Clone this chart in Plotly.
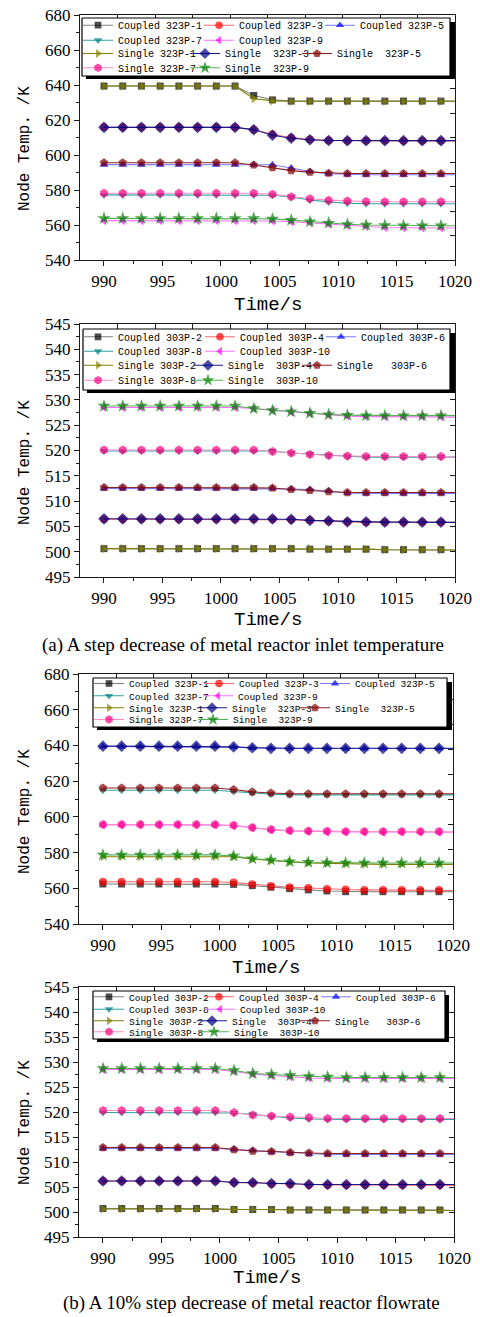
import plotly.graph_objects as go

W, H = 480, 1317

# Sample times; markers every 1.6 s, the line runs on to 1020 s
TIME = [990.0, 991.6, 993.2, 994.8, 996.4, 998.0, 999.6, 1001.2, 1002.8, 1004.4,
        1006.0, 1007.6, 1009.2, 1010.8, 1012.4, 1014.0, 1015.6, 1017.2, 1018.8, 1020.0]

# (a) inlet-temperature step, 323P nodes
a323_c1 = [639.4, 639.4, 639.4, 639.4, 639.4, 639.4, 639.4, 639.4, 634.0, 631.5, 630.8, 630.8, 630.8, 630.8, 630.8, 630.8, 630.8, 630.8, 630.8, 630.8]
a323_c3 = [615.8, 615.8, 615.8, 615.8, 615.8, 615.8, 615.8, 615.8, 614.4, 611.9, 609.9, 608.8, 608.3, 608.1, 608.1, 608.1, 608.1, 608.1, 608.1, 608.1]
a323_c5 = [594.5, 594.5, 594.5, 594.5, 594.5, 594.5, 594.5, 594.5, 594.5, 594.4, 592.6, 590.6, 589.3, 588.9, 588.7, 588.7, 588.7, 588.7, 588.7, 588.7]
a323_c7 = [577.2, 577.2, 577.2, 577.2, 577.2, 577.2, 577.2, 577.2, 577.2, 577.0, 576.0, 574.3, 573.2, 572.4, 572.1, 572.1, 572.1, 572.1, 572.1, 572.1]
a323_c9 = [562.5, 562.5, 562.5, 562.5, 562.5, 562.5, 562.5, 562.5, 562.5, 562.3, 561.9, 561.3, 560.6, 559.7, 559.1, 558.6, 558.4, 558.3, 558.3, 558.3]
a323_s1 = [639.4, 639.4, 639.4, 639.4, 639.4, 639.4, 639.4, 639.4, 632.2, 630.9, 630.7, 630.7, 630.7, 630.7, 630.7, 630.7, 630.7, 630.7, 630.7, 630.7]
a323_s3 = [615.8, 615.8, 615.8, 615.8, 615.8, 615.8, 615.8, 615.8, 614.5, 611.3, 609.6, 608.7, 608.3, 608.2, 608.2, 608.2, 608.2, 608.2, 608.2, 608.2]
a323_s5 = [595.6, 595.6, 595.6, 595.6, 595.6, 595.6, 595.6, 595.6, 594.3, 592.8, 591.1, 590.2, 589.6, 589.4, 589.4, 589.4, 589.4, 589.4, 589.4, 589.4]
a323_s7 = [578.1, 578.1, 578.1, 578.1, 578.1, 578.1, 578.1, 578.1, 578.1, 577.6, 576.1, 575.0, 574.2, 573.7, 573.4, 573.3, 573.3, 573.3, 573.3, 573.3]
a323_s9 = [563.8, 563.8, 563.8, 563.8, 563.8, 563.8, 563.8, 563.8, 563.8, 563.5, 562.8, 561.9, 561.1, 560.4, 560.0, 559.8, 559.6, 559.6, 559.6, 559.6]

# (a) inlet-temperature step, 303P nodes
a303_c2 = [500.6, 500.6, 500.6, 500.6, 500.6, 500.6, 500.6, 500.6, 500.6, 500.6, 500.6, 500.5, 500.5, 500.5, 500.5, 500.4, 500.4, 500.4, 500.4, 500.35]
a303_c4 = [506.4, 506.4, 506.4, 506.4, 506.4, 506.4, 506.4, 506.4, 506.4, 506.4, 506.3, 506.2, 506.0, 505.9, 505.8, 505.8, 505.8, 505.8, 505.8, 505.8]
a303_c6 = [512.5, 512.5, 512.5, 512.5, 512.5, 512.5, 512.5, 512.5, 512.5, 512.5, 512.4, 512.3, 512.0, 511.6, 511.5, 511.5, 511.5, 511.5, 511.5, 511.5]
a303_c8 = [519.9, 519.9, 519.9, 519.9, 519.9, 519.9, 519.9, 519.9, 519.9, 519.9, 519.5, 519.3, 519.0, 518.8, 518.7, 518.7, 518.7, 518.7, 518.7, 518.7]
a303_c10 = [528.5, 528.5, 528.5, 528.5, 528.5, 528.5, 528.5, 528.5, 528.3, 528.0, 527.6, 527.3, 527.0, 526.8, 526.7, 526.7, 526.7, 526.7, 526.7, 526.6]
a303_s2 = [500.6, 500.6, 500.6, 500.6, 500.6, 500.6, 500.6, 500.6, 500.6, 500.6, 500.6, 500.6, 500.5, 500.5, 500.5, 500.4, 500.4, 500.4, 500.4, 500.35]
a303_s4 = [506.5, 506.5, 506.5, 506.5, 506.5, 506.5, 506.5, 506.5, 506.5, 506.5, 506.4, 506.2, 506.1, 505.9, 505.9, 505.85, 505.85, 505.85, 505.85, 505.8]
a303_s6 = [512.7, 512.7, 512.7, 512.7, 512.7, 512.7, 512.7, 512.7, 512.7, 512.6, 512.3, 512.1, 511.9, 511.7, 511.7, 511.7, 511.7, 511.7, 511.7, 511.7]
a303_s8 = [520.1, 520.1, 520.1, 520.1, 520.1, 520.1, 520.1, 520.1, 520.1, 519.8, 519.5, 519.2, 519.0, 518.9, 518.8, 518.8, 518.8, 518.8, 518.8, 518.7]
a303_s10 = [528.8, 528.8, 528.8, 528.8, 528.8, 528.8, 528.8, 528.8, 528.3, 527.9, 527.7, 527.4, 527.1, 527.0, 526.9, 526.9, 526.9, 526.9, 526.9, 526.9]

# (b) 10% flowrate step, 323P nodes
b323_c1 = [562.4, 562.4, 562.4, 562.4, 562.4, 562.4, 562.4, 562.2, 561.5, 560.6, 559.8, 559.1, 558.5, 558.1, 558.1, 558.1, 558.1, 558.1, 558.1, 558.1]
b323_c3 = [563.7, 563.7, 563.7, 563.7, 563.7, 563.7, 563.7, 563.2, 562.2, 561.3, 560.6, 560.2, 559.6, 559.3, 559.1, 559.1, 559.1, 559.1, 559.1, 558.8]
b323_c5 = [639.4, 639.4, 639.4, 639.4, 639.4, 639.4, 639.4, 639.0, 638.6, 638.3, 638.3, 638.3, 638.3, 638.3, 638.3, 638.3, 638.3, 638.3, 638.3, 638.3]
b323_c7 = [614.9, 614.9, 614.9, 614.9, 614.9, 614.9, 614.9, 614.2, 613.4, 612.7, 612.3, 612.3, 612.3, 612.3, 612.3, 612.3, 612.3, 612.3, 612.3, 612.3]
b323_c9 = [595.5, 595.5, 595.5, 595.5, 595.5, 595.5, 595.5, 595.0, 593.8, 592.7, 592.1, 591.8, 591.6, 591.5, 591.5, 591.5, 591.5, 591.5, 591.5, 591.4]
b323_s1 = [577.7, 577.7, 577.7, 577.7, 577.7, 577.7, 577.7, 577.7, 576.3, 575.4, 574.8, 574.2, 573.9, 573.6, 573.4, 573.4, 573.4, 573.4, 573.4, 573.4]
b323_s3 = [639.6, 639.6, 639.6, 639.6, 639.6, 639.6, 639.6, 639.2, 638.7, 638.4, 638.4, 638.4, 638.4, 638.4, 638.4, 638.4, 638.4, 638.4, 638.4, 638.4]
b323_s5 = [616.2, 616.2, 616.2, 616.2, 616.2, 616.2, 616.2, 615.3, 614.0, 613.4, 612.9, 612.9, 612.9, 612.9, 612.9, 612.9, 612.9, 612.9, 612.9, 612.9]
b323_s7 = [595.7, 595.7, 595.7, 595.7, 595.7, 595.7, 595.7, 595.3, 594.0, 592.9, 592.3, 592.1, 591.9, 591.8, 591.8, 591.8, 591.8, 591.8, 591.8, 591.6]
b323_s9 = [578.7, 578.7, 578.7, 578.7, 578.7, 578.7, 578.7, 578.1, 576.6, 575.9, 574.9, 574.6, 574.4, 574.2, 574.2, 574.2, 574.2, 574.2, 574.2, 574.2]

# (b) 10% flowrate step, 303P nodes
b303_c2 = [500.7, 500.7, 500.7, 500.7, 500.7, 500.7, 500.7, 500.5, 500.5, 500.5, 500.4, 500.4, 500.4, 500.4, 500.4, 500.4, 500.4, 500.4, 500.4, 500.3]
b303_c4 = [506.2, 506.2, 506.2, 506.2, 506.2, 506.2, 506.2, 505.9, 505.8, 505.6, 505.5, 505.4, 505.4, 505.4, 505.4, 505.4, 505.4, 505.4, 505.4, 505.3]
b303_c6 = [512.7, 512.7, 512.7, 512.7, 512.7, 512.7, 512.7, 512.5, 512.3, 512.0, 511.8, 511.6, 511.5, 511.5, 511.5, 511.5, 511.5, 511.5, 511.5, 511.5]
b303_c8 = [519.9, 519.9, 519.9, 519.9, 519.9, 519.9, 519.9, 519.8, 519.5, 519.1, 518.8, 518.6, 518.5, 518.5, 518.5, 518.5, 518.5, 518.5, 518.5, 518.5]
b303_c10 = [528.5, 528.5, 528.5, 528.5, 528.5, 528.5, 528.5, 528.1, 527.6, 527.3, 527.0, 526.8, 526.7, 526.7, 526.7, 526.7, 526.7, 526.7, 526.7, 526.7]
b303_s2 = [500.6, 500.6, 500.6, 500.6, 500.6, 500.6, 500.6, 500.5, 500.5, 500.5, 500.4, 500.4, 500.4, 500.4, 500.4, 500.4, 500.4, 500.4, 500.4, 500.3]
b303_s4 = [506.2, 506.2, 506.2, 506.2, 506.2, 506.2, 506.2, 505.9, 505.9, 505.7, 505.7, 505.5, 505.5, 505.5, 505.5, 505.5, 505.5, 505.5, 505.5, 505.5]
b303_s6 = [512.9, 512.9, 512.9, 512.9, 512.9, 512.9, 512.9, 512.5, 512.2, 512.1, 511.9, 511.8, 511.7, 511.7, 511.7, 511.7, 511.7, 511.7, 511.7, 511.7]
b303_s8 = [520.3, 520.3, 520.3, 520.3, 520.3, 520.3, 520.3, 519.9, 519.4, 519.2, 519.0, 518.9, 518.7, 518.7, 518.7, 518.7, 518.7, 518.7, 518.7, 518.7]
b303_s10 = [528.7, 528.7, 528.7, 528.7, 528.7, 528.7, 528.7, 528.3, 527.7, 527.5, 527.3, 527.1, 527.0, 526.9, 526.9, 526.9, 526.9, 526.9, 526.9, 526.9]

# Legend labels
names_323_coupled = ["Coupled 323P-1", "Coupled 323P-3", "Coupled 323P-5", "Coupled 323P-7", "Coupled 323P-9"]
names_323_single = ["Single 323P-1", "Single\u00a0\u00a0323P-3", "Single\u00a0\u00a0323P-5", "Single 323P-7", "Single\u00a0\u00a0323P-9"]
names_303_coupled = ["Coupled 303P-2", "Coupled 303P-4", "Coupled 303P-6", "Coupled 303P-8", "Coupled 303P-10"]
names_303_single = ["Single 303P-2", "Single\u00a0\u00a0303P-4", "Single\u00a0\u00a0\u00a0303P-6", "Single 303P-8", "Single\u00a0\u00a0303P-10"]

Y_TICKS_323 = [540, 560, 580, 600, 620, 640, 660, 680]
Y_TICKS_303 = [495, 500, 505, 510, 515, 520, 525, 530, 535, 540, 545]
X_TICKS = [990, 995, 1000, 1005, 1010, 1015, 1020]

# Marker / line styles, by position within a panel (1st..5th node)
COUPLED_STYLE = [
    dict(symbol="square", mc="#000000", lc="#7f7f7f", size=7),
    dict(symbol="circle", mc="#ff0000", lc="#ff6a6a", size=8),
    dict(symbol="triangle-up", mc="#0000ff", lc="#7a7aff", size=8),
    dict(symbol="triangle-down", mc="#008080", lc="#2fa3a3", size=8),
    dict(symbol="triangle-left", mc="#ff00ff", lc="#ff73ff", size=8),
]
SINGLE_STYLE = [
    dict(symbol="triangle-right", mc="#808000", lc="#808000", size=8),
    dict(symbol="diamond", mc="#000080", lc="#1a1a8c", size=9),
    dict(symbol="pentagon", mc="#800000", lc="#8c2020", size=9),
    dict(symbol="hexagon", mc="#ff0080", lc="#ff8cc6", size=9),
    dict(symbol="star", mc="#008000", lc="#55b055", size=10),
]


def px_x(p):
    return p / W


def px_y(p):
    return 1 - p / H


fig = go.Figure()

panels = [
    dict(coupled=[a323_c1, a323_c3, a323_c5, a323_c7, a323_c9],
         single=[a323_s1, a323_s3, a323_s5, a323_s7, a323_s9],
         cn=names_323_coupled, sn=names_323_single,
         xpx=(80, 455), ypx=(15, 260), yr=(540, 680), yt=Y_TICKS_323, minor=10,
         legx=78, rows=(26.7, 41.7, 55.0, 69.3), lfont=10,
         pitch_c=(121, 121, 0, 121, 0), pitch_s=(107, 112, 0, 107, 0),
         box=(82, 18, 450, 76), shadow=(86, 22, 455, 79),
         ytitle=149, xtitle=305),
    dict(coupled=[a303_c2, a303_c4, a303_c6, a303_c8, a303_c10],
         single=[a303_s2, a303_s4, a303_s6, a303_s8, a303_s10],
         cn=names_303_coupled, sn=names_303_single,
         xpx=(80, 455), ypx=(324, 577), yr=(495, 545), yt=Y_TICKS_303, minor=2.5,
         legx=78, rows=(338.3, 352.7, 366.7, 381.7), lfont=10,
         pitch_c=(122, 121, 0, 122, 0), pitch_s=(110, 109, 0, 110, 0),
         box=(83, 329, 450, 390), shadow=(87, 333, 455, 393),
         ytitle=463, xtitle=620),
    dict(coupled=[b323_c1, b323_c3, b323_c5, b323_c7, b323_c9],
         single=[b323_s1, b323_s3, b323_s5, b323_s7, b323_s9],
         cn=names_323_coupled, sn=names_323_single,
         xpx=(79, 453), ypx=(674, 924), yr=(540, 680), yt=Y_TICKS_323, minor=10,
         legx=89, rows=(685.0, 697.3, 709.3, 721.0), lfont=9.5,
         pitch_c=(110, 116, 0, 109, 0), pitch_s=(103, 103, 0, 104, 0),
         box=(93, 678, 447, 727), shadow=(97, 682, 452, 730),
         ytitle=812, xtitle=968),
    dict(coupled=[b303_c2, b303_c4, b303_c6, b303_c8, b303_c10],
         single=[b303_s2, b303_s4, b303_s6, b303_s8, b303_s10],
         cn=names_303_coupled, sn=names_303_single,
         xpx=(79, 454), ypx=(987, 1237), yr=(495, 545), yt=Y_TICKS_303, minor=2.5,
         legx=89, rows=(998.3, 1010.7, 1022.3, 1033.3), lfont=9.5,
         pitch_c=(110, 117, 0, 111, 0), pitch_s=(103, 103, 0, 105, 0),
         box=(93, 991, 445, 1039), shadow=(97, 995, 449, 1042),
         ytitle=1123, xtitle=1278),
]

AXIS_FONT = dict(family="Liberation Serif", size=17, color="#000000")
LINE_C = "#1a1a1a"
LEGEND_ROW_SHIFT = 1.5  # legend rows render slightly below their anchor point

fig.update_layout(
    width=W, height=H, margin=dict(l=0, r=0, t=0, b=0, autoexpand=False),
    paper_bgcolor="white", plot_bgcolor="rgba(0,0,0,0)", showlegend=True,
    font=dict(family="Liberation Serif", color="#000000"),
)

for i, p in enumerate(panels):
    n = i + 1
    xa = "x" if n == 1 else f"x{n}"
    ya = "y" if n == 1 else f"y{n}"
    xa_top = f"x{n + 4}"
    ya_right = f"y{n + 4}"
    xd = [px_x(p["xpx"][0]), px_x(p["xpx"][1])]
    yd = [px_y(p["ypx"][1]), px_y(p["ypx"][0])]

    # one horizontal legend per legend row (coupled rows 1-2, single rows 3-4)
    leg_ids = []
    for r in range(4):
        k = 4 * i + r + 1
        lid = "legend" if k == 1 else f"legend{k}"
        leg_ids.append(lid)
        fig.update_layout({lid: dict(
            orientation="h", x=px_x(p["legx"]), y=px_y(p["rows"][r] - LEGEND_ROW_SHIFT),
            xanchor="left", yanchor="middle", bgcolor="rgba(0,0,0,0)",
            borderwidth=0, font=dict(family="Liberation Mono", size=p["lfont"], color="#000000"),
            itemwidth=30, tracegroupgap=0,
        )})

    row_of = [0, 0, 0, 1, 1]
    for group, names, styles, pitches, row_off in (
        (p["coupled"], p["cn"], COUPLED_STYLE, p["pitch_c"], 0),
        (p["single"], p["sn"], SINGLE_STYLE, p["pitch_s"], 2),
    ):
        for j, (vals, name, st) in enumerate(zip(group, names, styles)):
            sizes = [st["size"]] * (len(TIME) - 1) + [0]
            tr = dict(
                x=TIME, y=vals, name=name, mode="lines+markers",
                xaxis=xa, yaxis=ya,
                line=dict(color=st["lc"], width=1.1),
                marker=dict(symbol=st["symbol"], color=st["mc"], size=sizes, line=dict(width=0)),
                legend=leg_ids[row_of[j] + row_off],
                hoverinfo="x+y+name",
            )
            if pitches[j]:
                tr["legendwidth"] = pitches[j] - 45
            fig.add_trace(go.Scatter(**tr))

    # empty trace so the top/right frame axes are laid out
    fig.add_trace(go.Scatter(x=[], y=[], xaxis=xa_top, yaxis=ya_right,
                             showlegend=False, hoverinfo="skip"))

    fig.update_layout({
        ("xaxis" if n == 1 else f"xaxis{n}"): dict(
            domain=xd, anchor=ya, range=[987.95, 1020], tickmode="array", tickvals=X_TICKS,
            ticks="outside", ticklen=5, tickwidth=1.2, tickcolor=LINE_C,
            minor=dict(dtick=2.5, tick0=990, ticks="outside", ticklen=3, tickwidth=1, tickcolor=LINE_C),
            showline=True, linecolor=LINE_C, linewidth=1.4, showgrid=False, zeroline=False,
            tickfont=AXIS_FONT, fixedrange=True),
        ("yaxis" if n == 1 else f"yaxis{n}"): dict(
            domain=yd, anchor=xa, range=list(p["yr"]), tickmode="array", tickvals=p["yt"],
            ticks="outside", ticklen=5, tickwidth=1.2, tickcolor=LINE_C,
            minor=dict(dtick=p["minor"], tick0=p["yr"][0], ticks="outside", ticklen=3, tickwidth=1, tickcolor=LINE_C),
            showline=True, linecolor=LINE_C, linewidth=1.4, showgrid=False, zeroline=False,
            tickfont=AXIS_FONT, fixedrange=True),
        f"xaxis{n + 4}": dict(
            overlaying=xa, anchor=ya, side="top", range=[0, 10], dtick=1, tick0=0,
            ticks="inside", ticklen=5, tickwidth=1, tickcolor=LINE_C, showticklabels=False,
            showline=True, linecolor=LINE_C, linewidth=1.4, showgrid=False, zeroline=False, fixedrange=True),
        f"yaxis{n + 4}": dict(
            overlaying=ya, anchor=xa, side="right", range=[0, 10], dtick=1, tick0=0,
            ticks="inside", ticklen=5, tickwidth=1, tickcolor=LINE_C, showticklabels=False,
            showline=True, linecolor=LINE_C, linewidth=1.4, showgrid=False, zeroline=False, fixedrange=True),
    })

    fig.add_annotation(text="Node Temp. /K", xref="paper", yref="paper",
                       x=px_x(25), y=px_y(p["ytitle"]), textangle=-90, showarrow=False,
                       xanchor="center", yanchor="middle",
                       font=dict(family="Liberation Mono", size=16, color="#000000"))
    fig.add_annotation(text="Time/s", xref="paper", yref="paper",
                       x=px_x((p["xpx"][0] + p["xpx"][1]) / 2), y=px_y(p["xtitle"]),
                       showarrow=False, xanchor="center", yanchor="middle",
                       font=dict(family="Liberation Mono", size=19, color="#000000"))

# Legend frames (drop shadow + white box) drawn on a page-sized pixel layer
# that sits above the four panels and below the legends.
fig.update_layout(
    xaxis9=dict(domain=[0, 1], anchor="y9", range=[0, W], visible=False, fixedrange=True),
    yaxis9=dict(domain=[0, 1], anchor="x9", range=[H, 0], visible=False, fixedrange=True),
)
for p in panels:
    sx0, sy0, sx1, sy1 = p["shadow"]
    fig.add_trace(go.Scatter(
        x=[sx0, sx1, sx1, sx0, sx0], y=[sy0, sy0, sy1, sy1, sy0], xaxis="x9", yaxis="y9",
        mode="lines", fill="toself", fillcolor="#000000", line=dict(width=0, color="#000000"),
        showlegend=False, hoverinfo="skip"))
    bx0, by0, bx1, by1 = p["box"]
    fig.add_trace(go.Scatter(
        x=[bx0, bx1, bx1, bx0, bx0], y=[by0, by0, by1, by1, by0], xaxis="x9", yaxis="y9",
        mode="lines", fill="toself", fillcolor="#ffffff", line=dict(width=1.2, color="#000000"),
        showlegend=False, hoverinfo="skip"))

fig.add_annotation(text="(a) A step decrease of metal reactor inlet temperature",
                   xref="paper", yref="paper", x=px_x(243), y=px_y(645), showarrow=False,
                   xanchor="center", yanchor="middle",
                   font=dict(family="Liberation Serif", size=19, color="#000000"))
fig.add_annotation(text="(b) A 10% step decrease of metal reactor flowrate",
                   xref="paper", yref="paper", x=px_x(251), y=px_y(1303), showarrow=False,
                   xanchor="center", yanchor="middle",
                   font=dict(family="Liberation Serif", size=19, color="#000000"))

fig.write_html("out.html")
